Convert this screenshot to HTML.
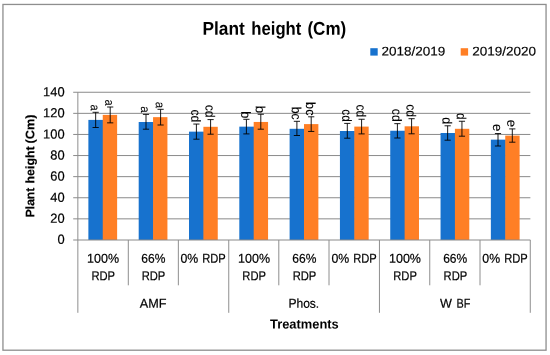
<!DOCTYPE html>
<html><head><meta charset="utf-8"><title>Plant height (Cm)</title>
<style>html,body{margin:0;padding:0;background:#fff;}svg{display:block;will-change:transform;}text{font-family:"Liberation Sans",sans-serif;fill:#000;}</style></head><body>
<svg width="550" height="355" viewBox="0 0 550 355">
<rect x="0" y="0" width="550" height="355" fill="#fff"/>
<rect x="2.95" y="4.45" width="543.1" height="345.75" fill="none" stroke="#8e8e8e" stroke-width="1.3"/>
<line x1="73.20" y1="92.25" x2="530.39" y2="92.25" stroke="#8a8a8a" stroke-width="1"/>
<line x1="73.20" y1="113.35" x2="530.39" y2="113.35" stroke="#8a8a8a" stroke-width="1"/>
<line x1="73.20" y1="134.45" x2="530.39" y2="134.45" stroke="#8a8a8a" stroke-width="1"/>
<line x1="73.20" y1="155.55" x2="530.39" y2="155.55" stroke="#8a8a8a" stroke-width="1"/>
<line x1="73.20" y1="176.65" x2="530.39" y2="176.65" stroke="#8a8a8a" stroke-width="1"/>
<line x1="73.20" y1="197.75" x2="530.39" y2="197.75" stroke="#8a8a8a" stroke-width="1"/>
<line x1="73.20" y1="218.85" x2="530.39" y2="218.85" stroke="#8a8a8a" stroke-width="1"/>
<rect x="88.38" y="119.90" width="14.97" height="120.10" fill="#1772ce"/>
<rect x="102.75" y="114.90" width="14.37" height="125.10" fill="#ff7f25"/>
<rect x="138.69" y="122.00" width="14.97" height="118.00" fill="#1772ce"/>
<rect x="153.06" y="117.15" width="14.37" height="122.85" fill="#ff7f25"/>
<rect x="189.00" y="131.65" width="14.97" height="108.35" fill="#1772ce"/>
<rect x="203.38" y="126.80" width="14.37" height="113.20" fill="#ff7f25"/>
<rect x="239.31" y="126.65" width="14.97" height="113.35" fill="#1772ce"/>
<rect x="253.69" y="121.95" width="14.37" height="118.05" fill="#ff7f25"/>
<rect x="289.62" y="128.80" width="14.97" height="111.20" fill="#1772ce"/>
<rect x="304.00" y="124.10" width="14.37" height="115.90" fill="#ff7f25"/>
<rect x="339.93" y="131.00" width="14.97" height="109.00" fill="#1772ce"/>
<rect x="354.30" y="126.60" width="14.37" height="113.40" fill="#ff7f25"/>
<rect x="390.24" y="130.75" width="14.97" height="109.25" fill="#1772ce"/>
<rect x="404.62" y="126.30" width="14.37" height="113.70" fill="#ff7f25"/>
<rect x="440.55" y="133.00" width="14.97" height="107.00" fill="#1772ce"/>
<rect x="454.92" y="128.80" width="14.37" height="111.20" fill="#ff7f25"/>
<rect x="490.86" y="139.65" width="14.97" height="100.35" fill="#1772ce"/>
<rect x="505.24" y="135.60" width="14.37" height="104.40" fill="#ff7f25"/>
<line x1="73.20" y1="240.00" x2="530.39" y2="240.00" stroke="#8a8a8a" stroke-width="1"/>
<line x1="77.85" y1="92.25" x2="77.85" y2="240.00" stroke="#8e8e8e" stroke-width="1"/>
<line x1="77.85" y1="240.00" x2="77.85" y2="312.8" stroke="#8e8e8e" stroke-width="1"/>
<line x1="128.30" y1="240.00" x2="128.30" y2="285.3" stroke="#8e8e8e" stroke-width="1"/>
<line x1="178.35" y1="240.00" x2="178.35" y2="285.3" stroke="#8e8e8e" stroke-width="1"/>
<line x1="228.75" y1="240.00" x2="228.75" y2="312.8" stroke="#8e8e8e" stroke-width="1"/>
<line x1="278.80" y1="240.00" x2="278.80" y2="285.3" stroke="#8e8e8e" stroke-width="1"/>
<line x1="329.00" y1="240.00" x2="329.00" y2="285.3" stroke="#8e8e8e" stroke-width="1"/>
<line x1="379.45" y1="240.00" x2="379.45" y2="312.8" stroke="#8e8e8e" stroke-width="1"/>
<line x1="429.75" y1="240.00" x2="429.75" y2="285.3" stroke="#8e8e8e" stroke-width="1"/>
<line x1="480.00" y1="240.00" x2="480.00" y2="285.3" stroke="#8e8e8e" stroke-width="1"/>
<line x1="530.27" y1="240.00" x2="530.27" y2="312.8" stroke="#8e8e8e" stroke-width="1"/>
<path d="M95.66 112.30V127.50M92.56 112.30H98.76M92.56 127.50H98.76" stroke="#000" stroke-width="0.9" fill="none"/>
<text transform="translate(90.76 110.59) rotate(90.05) scale(0.827 0.94)" font-size="13.3" text-anchor="end" stroke="#000" stroke-width="0.08">a</text>
<path d="M110.20 107.00V122.85M107.10 107.00H113.30M107.10 122.85H113.30" stroke="#000" stroke-width="0.9" fill="none"/>
<text transform="translate(105.30 105.59) rotate(90.05) scale(0.827 0.94)" font-size="13.3" text-anchor="end" stroke="#000" stroke-width="0.08">a</text>
<path d="M146.00 114.40V129.20M142.90 114.40H149.10M142.90 129.20H149.10" stroke="#000" stroke-width="0.9" fill="none"/>
<text transform="translate(141.10 112.82) rotate(90.05) scale(0.875 0.94)" font-size="13.3" text-anchor="end" stroke="#000" stroke-width="0.08">a</text>
<path d="M160.60 109.30V125.00M157.50 109.30H163.70M157.50 125.00H163.70" stroke="#000" stroke-width="0.9" fill="none"/>
<text transform="translate(155.70 108.01) rotate(90.05) scale(0.859 0.94)" font-size="13.3" text-anchor="end" stroke="#000" stroke-width="0.08">a</text>
<path d="M196.40 124.05V139.20M193.30 124.05H199.50M193.30 139.20H199.50" stroke="#000" stroke-width="0.9" fill="none"/>
<text transform="translate(191.30 122.28) rotate(90.05) scale(0.912 1)" font-size="13.3" text-anchor="end" stroke="#000" stroke-width="0.08">cd</text>
<path d="M210.60 119.60V134.20M207.50 119.60H213.70M207.50 134.20H213.70" stroke="#000" stroke-width="0.9" fill="none"/>
<text transform="translate(205.50 117.69) rotate(90.05) scale(0.928 1)" font-size="13.3" text-anchor="end" stroke="#000" stroke-width="0.08">cd</text>
<path d="M246.40 119.30V133.90M243.30 119.30H249.50M243.30 133.90H249.50" stroke="#000" stroke-width="0.9" fill="none"/>
<text transform="translate(241.30 118.18) rotate(90.05) scale(0.947 1)" font-size="13.3" text-anchor="end" stroke="#000" stroke-width="0.08">b</text>
<path d="M260.80 114.25V129.20M257.70 114.25H263.90M257.70 129.20H263.90" stroke="#000" stroke-width="0.9" fill="none"/>
<text transform="translate(255.70 113.15) rotate(90.05) scale(0.989 1)" font-size="13.3" text-anchor="end" stroke="#000" stroke-width="0.08">b</text>
<path d="M296.90 121.30V135.50M293.80 121.30H300.00M293.80 135.50H300.00" stroke="#000" stroke-width="0.9" fill="none"/>
<text transform="translate(291.80 119.82) rotate(90.05) scale(0.932 1)" font-size="13.3" text-anchor="end" stroke="#000" stroke-width="0.08">bc</text>
<path d="M311.20 116.80V131.45M308.10 116.80H314.30M308.10 131.45H314.30" stroke="#000" stroke-width="0.9" fill="none"/>
<text transform="translate(306.10 115.53) rotate(90.05) scale(0.959 1)" font-size="13.3" text-anchor="end" stroke="#000" stroke-width="0.08">bc</text>
<path d="M347.30 123.40V138.20M344.20 123.40H350.40M344.20 138.20H350.40" stroke="#000" stroke-width="0.9" fill="none"/>
<text transform="translate(342.20 121.86) rotate(90.05) scale(0.896 1)" font-size="13.3" text-anchor="end" stroke="#000" stroke-width="0.08">cd</text>
<path d="M361.60 119.25V133.90M358.50 119.25H364.70M358.50 133.90H364.70" stroke="#000" stroke-width="0.9" fill="none"/>
<text transform="translate(356.50 117.17) rotate(90.05) scale(0.904 1)" font-size="13.3" text-anchor="end" stroke="#000" stroke-width="0.08">cd</text>
<path d="M397.40 123.65V138.00M394.30 123.65H400.50M394.30 138.00H400.50" stroke="#000" stroke-width="0.9" fill="none"/>
<text transform="translate(392.30 121.62) rotate(90.05) scale(0.908 1)" font-size="13.3" text-anchor="end" stroke="#000" stroke-width="0.08">cd</text>
<path d="M411.60 118.70V133.80M408.50 118.70H414.70M408.50 133.80H414.70" stroke="#000" stroke-width="0.9" fill="none"/>
<text transform="translate(406.50 117.19) rotate(90.05) scale(0.928 1)" font-size="13.3" text-anchor="end" stroke="#000" stroke-width="0.08">cd</text>
<path d="M447.65 125.80V140.20M444.55 125.80H450.75M444.55 140.20H450.75" stroke="#000" stroke-width="0.9" fill="none"/>
<text transform="translate(442.55 124.10) rotate(90.05) scale(0.939 1)" font-size="13.3" text-anchor="end" stroke="#000" stroke-width="0.08">d</text>
<path d="M461.95 121.25V136.20M458.85 121.25H465.05M458.85 136.20H465.05" stroke="#000" stroke-width="0.9" fill="none"/>
<text transform="translate(456.85 119.66) rotate(90.05) scale(0.897 1)" font-size="13.3" text-anchor="end" stroke="#000" stroke-width="0.08">d</text>
<path d="M498.00 133.55V146.00M494.90 133.55H501.10M494.90 146.00H501.10" stroke="#000" stroke-width="0.9" fill="none"/>
<text transform="translate(492.90 131.38) rotate(90.05) scale(0.995 1)" font-size="13.3" text-anchor="end" stroke="#000" stroke-width="0.08">e</text>
<path d="M512.30 128.90V142.20M509.20 128.90H515.40M509.20 142.20H515.40" stroke="#000" stroke-width="0.9" fill="none"/>
<text transform="translate(507.20 127.23) rotate(90.05) scale(0.995 1)" font-size="13.3" text-anchor="end" stroke="#000" stroke-width="0.08">e</text>
<text transform="translate(64.65 96.30) rotate(0.05) scale(0.985 1)" font-size="13.1" text-anchor="end" stroke="#000" stroke-width="0.2">140</text>
<text transform="translate(64.65 117.38) rotate(0.05) scale(0.985 1)" font-size="13.1" text-anchor="end" stroke="#000" stroke-width="0.2">120</text>
<text transform="translate(64.65 138.46) rotate(0.05) scale(0.985 1)" font-size="13.1" text-anchor="end" stroke="#000" stroke-width="0.2">100</text>
<text transform="translate(64.65 159.54) rotate(0.05) scale(0.985 1)" font-size="13.1" text-anchor="end" stroke="#000" stroke-width="0.2">80</text>
<text transform="translate(64.65 180.62) rotate(0.05) scale(0.985 1)" font-size="13.1" text-anchor="end" stroke="#000" stroke-width="0.2">60</text>
<text transform="translate(64.65 201.70) rotate(0.05) scale(0.985 1)" font-size="13.1" text-anchor="end" stroke="#000" stroke-width="0.2">40</text>
<text transform="translate(64.65 222.78) rotate(0.05) scale(0.985 1)" font-size="13.1" text-anchor="end" stroke="#000" stroke-width="0.2">20</text>
<text transform="translate(64.65 243.86) rotate(0.05) scale(0.985 1)" font-size="13.1" text-anchor="end" stroke="#000" stroke-width="0.2">0</text>
<text transform="translate(202.54 34.70) rotate(0.05)" font-size="18.5" font-weight="bold" textLength="42.27" lengthAdjust="spacingAndGlyphs">Plant</text>
<text transform="translate(251.34 34.70) rotate(0.05)" font-size="18.5" font-weight="bold" textLength="49.97" lengthAdjust="spacingAndGlyphs">height</text>
<text transform="translate(307.45 34.70) rotate(0.05)" font-size="18.5" font-weight="bold" textLength="38.8" lengthAdjust="spacingAndGlyphs">(Cm)</text>
<rect x="370.3" y="48.2" width="7.4" height="7.4" fill="#1772ce"/>
<text transform="translate(381.50 55.50) rotate(0.05)" font-size="12.6" stroke="#000" stroke-width="0.15" textLength="63.8" lengthAdjust="spacingAndGlyphs">2018/2019</text>
<rect x="460.7" y="48.2" width="7.4" height="7.4" fill="#ff7f25"/>
<text transform="translate(472.30 55.50) rotate(0.05)" font-size="12.6" stroke="#000" stroke-width="0.15" textLength="63.8" lengthAdjust="spacingAndGlyphs">2019/2020</text>
<text transform="translate(34.30 217.21) rotate(-89.95)" font-size="12.3" font-weight="bold" stroke="#000" stroke-width="0.15" textLength="29.45" lengthAdjust="spacingAndGlyphs">Plant</text>
<text transform="translate(34.30 183.47) rotate(-89.95)" font-size="12.3" font-weight="bold" stroke="#000" stroke-width="0.15" textLength="37.22" lengthAdjust="spacingAndGlyphs">height</text>
<text transform="translate(34.30 143.43) rotate(-89.95)" font-size="12.3" font-weight="bold" stroke="#000" stroke-width="0.15" textLength="28.86" lengthAdjust="spacingAndGlyphs">(Cm)</text>
<text transform="translate(87.10 262.70) rotate(0.05)" font-size="12.9" stroke="#000" stroke-width="0.2" textLength="32.0" lengthAdjust="spacingAndGlyphs">100%</text>
<text transform="translate(91.41 280.25) rotate(0.05)" font-size="12.9" stroke="#000" stroke-width="0.2" textLength="23.6" lengthAdjust="spacingAndGlyphs">RDP</text>
<text transform="translate(141.31 262.70) rotate(0.05)" font-size="12.9" stroke="#000" stroke-width="0.2" textLength="24.1" lengthAdjust="spacingAndGlyphs">66%</text>
<text transform="translate(141.72 280.25) rotate(0.05)" font-size="12.9" stroke="#000" stroke-width="0.2" textLength="23.6" lengthAdjust="spacingAndGlyphs">RDP</text>
<text transform="translate(180.47 262.70) rotate(0.05)" font-size="12.9" stroke="#000" stroke-width="0.2" textLength="17.8" lengthAdjust="spacingAndGlyphs">0%</text>
<text transform="translate(202.28 262.70) rotate(0.05)" font-size="12.9" stroke="#000" stroke-width="0.2" textLength="23.5" lengthAdjust="spacingAndGlyphs">RDP</text>
<text transform="translate(238.03 262.70) rotate(0.05)" font-size="12.9" stroke="#000" stroke-width="0.2" textLength="32.0" lengthAdjust="spacingAndGlyphs">100%</text>
<text transform="translate(242.34 280.25) rotate(0.05)" font-size="12.9" stroke="#000" stroke-width="0.2" textLength="23.6" lengthAdjust="spacingAndGlyphs">RDP</text>
<text transform="translate(292.25 262.70) rotate(0.05)" font-size="12.9" stroke="#000" stroke-width="0.2" textLength="24.1" lengthAdjust="spacingAndGlyphs">66%</text>
<text transform="translate(292.64 280.25) rotate(0.05)" font-size="12.9" stroke="#000" stroke-width="0.2" textLength="23.6" lengthAdjust="spacingAndGlyphs">RDP</text>
<text transform="translate(331.41 262.70) rotate(0.05)" font-size="12.9" stroke="#000" stroke-width="0.2" textLength="17.8" lengthAdjust="spacingAndGlyphs">0%</text>
<text transform="translate(353.20 262.70) rotate(0.05)" font-size="12.9" stroke="#000" stroke-width="0.2" textLength="23.5" lengthAdjust="spacingAndGlyphs">RDP</text>
<text transform="translate(388.97 262.70) rotate(0.05)" font-size="12.9" stroke="#000" stroke-width="0.2" textLength="32.0" lengthAdjust="spacingAndGlyphs">100%</text>
<text transform="translate(393.26 280.25) rotate(0.05)" font-size="12.9" stroke="#000" stroke-width="0.2" textLength="23.6" lengthAdjust="spacingAndGlyphs">RDP</text>
<text transform="translate(443.18 262.70) rotate(0.05)" font-size="12.9" stroke="#000" stroke-width="0.2" textLength="24.1" lengthAdjust="spacingAndGlyphs">66%</text>
<text transform="translate(443.57 280.25) rotate(0.05)" font-size="12.9" stroke="#000" stroke-width="0.2" textLength="23.6" lengthAdjust="spacingAndGlyphs">RDP</text>
<text transform="translate(482.34 262.70) rotate(0.05)" font-size="12.9" stroke="#000" stroke-width="0.2" textLength="17.8" lengthAdjust="spacingAndGlyphs">0%</text>
<text transform="translate(504.13 262.70) rotate(0.05)" font-size="12.9" stroke="#000" stroke-width="0.2" textLength="23.5" lengthAdjust="spacingAndGlyphs">RDP</text>
<text transform="translate(139.80 307.70) rotate(0.05)" font-size="12.9" stroke="#000" stroke-width="0.2" textLength="26.7" lengthAdjust="spacingAndGlyphs">AMF</text>
<text transform="translate(288.40 307.70) rotate(0.05)" font-size="12.9" stroke="#000" stroke-width="0.2" textLength="30.8" lengthAdjust="spacingAndGlyphs">Phos.</text>
<text transform="translate(440.10 307.70) rotate(0.05)" font-size="12.9" stroke="#000" stroke-width="0.2" textLength="11.9" lengthAdjust="spacingAndGlyphs">W</text>
<text transform="translate(456.40 307.70) rotate(0.05)" font-size="12.9" stroke="#000" stroke-width="0.2" textLength="13.9" lengthAdjust="spacingAndGlyphs">BF</text>
<text transform="translate(270.00 328.40) rotate(0.05)" font-size="13.1" font-weight="bold" textLength="68.7" lengthAdjust="spacingAndGlyphs">Treatments</text>
</svg></body></html>
